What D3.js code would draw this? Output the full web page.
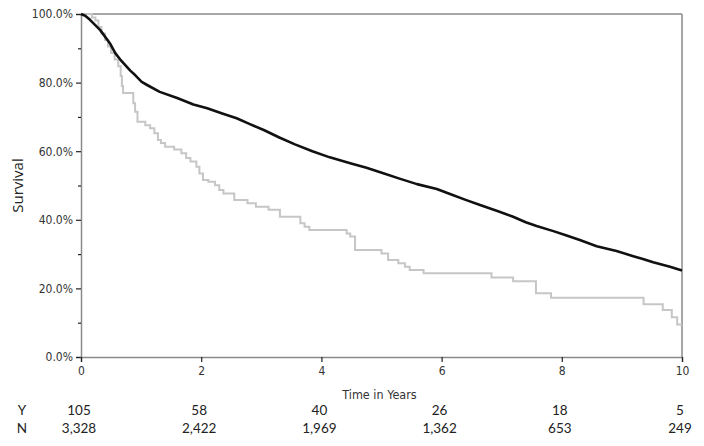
<!DOCTYPE html>
<html>
<head>
<meta charset="utf-8">
<script src="https://cdn.jsdelivr.net/npm/d3@7"></script>
<style>
  html, body { margin: 0; padding: 0; background: #fff; }
  svg { display: block; }
</style>
</head>
<body>
<svg id="chart" width="704" height="446"></svg>
<script>
// ---- data ----
// Group "N" (n = 3,328): time in years, survival %
const blackTimes = [0, 0.07, 0.15, 0.32, 0.48, 0.57, 0.65, 0.82, 0.90, 1.01, 1.10, 1.31, 1.60, 1.87, 2.10, 2.35, 2.59, 2.81, 3.05, 3.30, 3.56, 3.85, 4.14, 4.48, 4.75, 5.03, 5.30, 5.59, 5.92, 6.14, 6.40, 6.64, 6.94, 7.19, 7.40, 7.58, 7.86, 8.08, 8.30, 8.58, 8.91, 9.19, 9.35, 9.52, 9.80, 10.0];
const blackSurv  = [100, 99.5, 98.3, 95.3, 91.5, 88.6, 86.8, 83.5, 82.2, 80.2, 79.3, 77.3, 75.5, 73.6, 72.5, 71.0, 69.6, 67.9, 66.1, 64.0, 62.0, 60.0, 58.2, 56.5, 55.2, 53.6, 52.0, 50.4, 49.0, 47.5, 45.8, 44.3, 42.5, 40.9, 39.3, 38.2, 36.7, 35.4, 34.1, 32.3, 30.9, 29.4, 28.6, 27.6, 26.3, 25.2];

// Group "Y" (n = 105): Kaplan-Meier step function (step after)
const grayTimes = [0, 0.18, 0.24, 0.29, 0.34, 0.40, 0.45, 0.50, 0.56, 0.62, 0.66, 0.68, 0.70, 0.87, 0.90, 0.94, 1.07, 1.15, 1.22, 1.28, 1.33, 1.40, 1.55, 1.67, 1.75, 1.82, 1.92, 1.97, 2.03, 2.12, 2.23, 2.30, 2.37, 2.55, 2.77, 2.91, 3.12, 3.31, 3.65, 3.72, 3.80, 4.42, 4.48, 4.56, 5.00, 5.11, 5.28, 5.39, 5.47, 5.70, 6.83, 7.19, 7.57, 7.82, 9.36, 9.68, 9.83, 9.92, 10.0];
const graySurv  = [100, 99.0, 98.1, 96.2, 94.3, 92.4, 90.5, 88.6, 86.7, 84.8, 81.9, 79.0, 77.0, 74.0, 71.5, 68.6, 67.6, 66.7, 65.2, 63.3, 62.4, 61.3, 60.5, 59.4, 58.0, 57.0, 55.5, 53.5, 51.6, 51.1, 50.1, 48.7, 47.7, 45.8, 44.8, 43.8, 42.9, 40.9, 39.0, 38.0, 37.0, 36.0, 35.1, 31.2, 30.2, 28.3, 27.3, 26.3, 25.4, 24.4, 23.2, 22.1, 18.6, 17.3, 15.4, 13.7, 11.6, 9.5, 9.5];

// axis ticks
const xTicks = [0, 2, 4, 6, 8, 10];
const yTicks = [0, 20, 40, 60, 80, 100];
const yMinorTicks = [10, 30, 50, 70, 90];

// number at risk table
const riskTimes = [0, 2, 4, 6, 8, 10];
const riskRowLabels = ["Y", "N"];
const riskY = [105, 58, 40, 26, 18, 5];
const riskN = [3328, 2422, 1969, 1362, 653, 249];

// ---- drawing ----
const svg = d3.select("#chart");
const margin = { left: 81, right: 22, top: 14, bottom: 89 };
const W = 704, H = 446;

const x = d3.scaleLinear().domain([0, 10]).range([margin.left, W - margin.right]);
const y = d3.scaleLinear().domain([0, 100]).range([H - margin.bottom, margin.top]);

const narrow = "'Liberation Sans Narrow', 'Arial Narrow', 'DejaVu Sans Condensed', sans-serif";
const axisColor = "#8a8a8a";

// frame: top and right
svg.append("line")
  .attr("x1", x(0)).attr("x2", x(10)).attr("y1", y(100)).attr("y2", y(100))
  .attr("stroke", axisColor).attr("stroke-width", 1.5);
svg.append("line")
  .attr("x1", x(10)).attr("x2", x(10)).attr("y1", y(100)).attr("y2", y(0))
  .attr("stroke", axisColor).attr("stroke-width", 1.5);

// y axis
const yAxis = svg.append("g")
  .attr("transform", `translate(${x(0)},0)`)
  .call(d3.axisLeft(y).tickValues(yTicks).tickSize(5).tickPadding(3)
    .tickFormat(d => d.toFixed(1) + "%"));
yAxis.select(".domain").attr("stroke", axisColor).attr("stroke-width", 1.5);
yAxis.selectAll(".tick line").attr("stroke", "#222").attr("stroke-width", 1.2);
yAxis.selectAll(".tick text").attr("font-family", narrow).attr("font-size", 12).attr("fill", "#333");

const yMinor = svg.append("g")
  .attr("transform", `translate(${x(0)},0)`)
  .call(d3.axisLeft(y).tickValues(yMinorTicks).tickSize(3).tickFormat(""));
yMinor.select(".domain").remove();
yMinor.selectAll(".tick line").attr("stroke", "#222").attr("stroke-width", 1.2);

// x axis
const xAxis = svg.append("g")
  .attr("transform", `translate(0,${y(0)})`)
  .call(d3.axisBottom(x).tickValues(xTicks).tickSize(5).tickPadding(4)
    .tickFormat(d3.format("d")));
xAxis.select(".domain").attr("stroke", axisColor).attr("stroke-width", 1.5);
xAxis.selectAll(".tick line").attr("stroke", "#222").attr("stroke-width", 1.2);
xAxis.selectAll(".tick text").attr("font-family", narrow).attr("font-size", 12).attr("fill", "#333");

// axis titles
svg.append("text")
  .attr("x", (x(0) + x(10)) / 2 - 2).attr("y", 399)
  .attr("text-anchor", "middle")
  .attr("font-family", narrow).attr("font-size", 12.5).attr("fill", "#333")
  .text("Time in Years");

svg.append("text")
  .attr("transform", `translate(23,${(y(0) + y(100)) / 2}) rotate(-90)`)
  .attr("text-anchor", "middle")
  .attr("font-family", "'Open Sans', 'Noto Sans', sans-serif").attr("font-size", 15).attr("fill", "#222")
  .text("Survival");

// curves
const grayData = grayTimes.map((t, i) => [t, graySurv[i]]);
const blackData = blackTimes.map((t, i) => [t, blackSurv[i]]);

svg.append("path")
  .datum(grayData)
  .attr("fill", "none")
  .attr("stroke", "#c6c6c6")
  .attr("stroke-width", 2)
  .attr("d", d3.line().x(d => x(d[0])).y(d => y(d[1])).curve(d3.curveStepAfter));

svg.append("path")
  .datum(blackData)
  .attr("fill", "none")
  .attr("stroke", "#111")
  .attr("stroke-width", 2.6)
  .attr("stroke-linejoin", "round")
  .attr("d", d3.line().x(d => x(d[0])).y(d => y(d[1])));

// number-at-risk table
const riskFont = "Lato, 'Open Sans', sans-serif";
const rowY = [415, 433];
const fmt = d3.format(",");
[riskY, riskN].forEach((row, r) => {
  svg.append("text")
    .attr("x", 22).attr("y", rowY[r])
    .attr("text-anchor", "middle")
    .attr("font-family", riskFont).attr("font-size", 13.5).attr("fill", "#222")
    .text(riskRowLabels[r]);
  svg.selectAll(null)
    .data(row)
    .enter().append("text")
    .attr("x", (d, i) => x(riskTimes[i]) - 2)
    .attr("y", rowY[r])
    .attr("text-anchor", "middle")
    .attr("font-family", riskFont).attr("font-size", 13.5).attr("fill", "#222")
    .text(d => fmt(d));
});
</script>
</body>
</html>
